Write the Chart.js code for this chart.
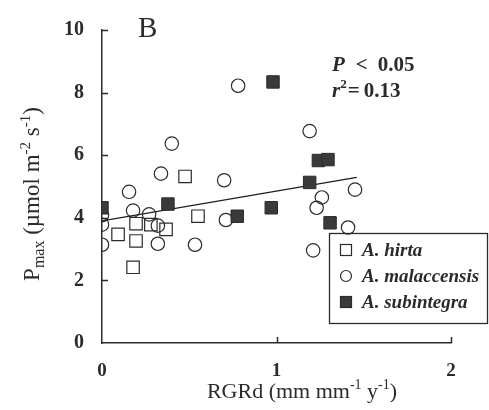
<!DOCTYPE html>
<html>
<head>
<meta charset="utf-8">
<script src="https://cdn.jsdelivr.net/npm/chart.js@4/dist/chart.umd.min.js"></script>
<style>
  html, body { margin: 0; padding: 0; background: #fff; }
  #wrap { width: 489px; height: 410px; position: relative; }
</style>
</head>
<body>
<div id="wrap"><canvas id="c" width="489" height="410"></canvas></div>
<script>
// ---- data ----
const hirtaX = [0.092, 0.178, 0.195, 0.195, 0.28, 0.367, 0.476, 0.55];
const hirtaY = [3.47, 2.42, 3.81, 3.26, 3.78, 3.63, 5.32, 4.05];

const malaccensisX = [0, 0, 0, 0.155, 0.178, 0.27, 0.32, 0.32, 0.338, 0.40, 0.533, 0.70, 0.71, 0.78, 1.19, 1.21, 1.23, 1.26, 1.41, 1.45];
const malaccensisY = [4.08, 3.78, 3.14, 4.83, 4.23, 4.11, 3.75, 3.17, 5.41, 6.37, 3.14, 5.2, 3.93, 8.22, 6.77, 2.96, 4.32, 4.65, 3.69, 4.9];

const subintegraX = [0, 0.378, 0.775, 0.97, 0.98, 1.19, 1.24, 1.295, 1.307];
const subintegraY = [4.32, 4.44, 4.05, 4.32, 8.34, 5.13, 5.83, 5.86, 3.84];

const fitX = [0, 1.46];
const fitY = [3.9, 5.29];

const xTicks = [0, 1, 2];
const yTicks = [0, 2, 4, 6, 8, 10];
const seriesNames = ['A. hirta', 'A. malaccensis', 'A. subintegra'];

const pts = (xs, ys) => xs.map((x, i) => ({ x: x, y: ys[i] }));

const INK = '#2b2b2b';
const SERIF = '"Liberation Serif", "Times New Roman", serif';

const decorPlugin = {
  id: 'decor',
  afterDraw(chart) {
    const ctx = chart.ctx;
    const xs = chart.scales.x, ys = chart.scales.y;
    const ca = chart.chartArea;
    ctx.save();
    // inward tick marks
    ctx.strokeStyle = INK;
    ctx.lineWidth = 1.5;
    yTicks.forEach(v => {
      if (v === 0) return;
      const py = Math.round(ys.getPixelForValue(v)) + 0.5;
      ctx.beginPath(); ctx.moveTo(ca.left, py); ctx.lineTo(ca.left + 6, py); ctx.stroke();
    });
    xTicks.forEach(v => {
      if (v === 0) return;
      const px = Math.round(xs.getPixelForValue(v)) + 0.5;
      ctx.beginPath(); ctx.moveTo(px, ca.bottom); ctx.lineTo(px, ca.bottom - 6); ctx.stroke();
    });

    ctx.fillStyle = INK;
    ctx.textBaseline = 'alphabetic';
    ctx.textAlign = 'left';

    // panel letter
    ctx.font = '29px ' + SERIF;
    ctx.fillText('B', 138, 37);

    // statistics
    const drawPieces = (pieces, x0, y0) => {
      let x = x0;
      pieces.forEach(p => {
        ctx.font = p.f;
        ctx.fillText(p.t, x, y0 + (p.dy || 0));
        x += ctx.measureText(p.t).width + (p.gap || 0);
      });
      return x;
    };
    drawPieces([
      { t: 'P', f: 'italic bold 21px ' + SERIF, gap: 11 },
      { t: '<', f: 'bold 21px ' + SERIF, gap: 10 },
      { t: '0.05', f: 'bold 21px ' + SERIF }
    ], 332, 71);
    drawPieces([
      { t: 'r', f: 'italic bold 21px ' + SERIF },
      { t: '2', f: 'bold 13px ' + SERIF, dy: -9, gap: 1 },
      { t: '=', f: 'bold 21px ' + SERIF, gap: 4 },
      { t: '0.13', f: 'bold 21px ' + SERIF }
    ], 332, 97);

    // x axis title
    const xPieces = [
      { t: 'RGRd (mm mm', f: '22px ' + SERIF },
      { t: '-1', f: '14px ' + SERIF, dy: -9 },
      { t: ' y', f: '22px ' + SERIF },
      { t: '-1', f: '14px ' + SERIF, dy: -9 },
      { t: ')', f: '22px ' + SERIF }
    ];
    let w = 0;
    xPieces.forEach(p => { ctx.font = p.f; w += ctx.measureText(p.t).width; });
    drawPieces(xPieces, 302 - w / 2, 398);

    // y axis title (rotated)
    const yPieces = [
      { t: 'P', f: '23px ' + SERIF },
      { t: 'max', f: '16px ' + SERIF, dy: 5 },
      { t: ' (\u00b5mol m', f: '23px ' + SERIF },
      { t: '-2', f: '15px ' + SERIF, dy: -9 },
      { t: ' s', f: '23px ' + SERIF },
      { t: '-1', f: '15px ' + SERIF, dy: -9 },
      { t: ')', f: '23px ' + SERIF }
    ];
    let wy = 0;
    yPieces.forEach(p => { ctx.font = p.f; wy += ctx.measureText(p.t).width; });
    ctx.save();
    ctx.translate(39, 194);
    ctx.rotate(-Math.PI / 2);
    drawPieces(yPieces, -wy / 2, 0);
    ctx.restore();

    // legend
    const lx = 329, ly = 233, lw = 158, lh = 90;
    ctx.lineWidth = 1.3;
    ctx.strokeStyle = INK;
    ctx.strokeRect(lx + 0.5, ly + 0.5, lw, lh);
    const rows = [250, 276, 302];
    const dsets = chart.data.datasets;
    rows.forEach((ry, i) => {
      const ds = dsets[i];
      const mx = 346;
      ctx.lineWidth = 1.2;
      ctx.strokeStyle = INK;
      ctx.fillStyle = ds.backgroundColor;
      if (ds.pointStyle === 'circle') {
        ctx.beginPath(); ctx.arc(mx, ry, 5.5, 0, Math.PI * 2);
        ctx.stroke();
      } else {
        const s = 5.5;
        if (ds.backgroundColor !== 'rgba(0,0,0,0)') { ctx.fillRect(mx - s, ry - s, 2 * s, 2 * s); }
        ctx.strokeRect(mx - s, ry - s, 2 * s, 2 * s);
      }
      ctx.fillStyle = INK;
      ctx.font = 'italic bold 19px ' + SERIF;
      ctx.textBaseline = 'middle';
      ctx.fillText(seriesNames[i], 362, ry + 1);
      ctx.textBaseline = 'alphabetic';
    });
    ctx.restore();
  }
};

new Chart(document.getElementById('c'), {
  type: 'scatter',
  data: {
    datasets: [
      {
        label: seriesNames[0], data: pts(hirtaX, hirtaY),
        pointStyle: 'rect', pointRadius: 8.8, pointHoverRadius: 8.8,
        backgroundColor: 'rgba(0,0,0,0)', borderColor: INK, borderWidth: 1.2, order: 2
      },
      {
        label: seriesNames[1], data: pts(malaccensisX, malaccensisY),
        pointStyle: 'circle', pointRadius: 6.7, pointHoverRadius: 6.7,
        backgroundColor: 'rgba(0,0,0,0)', borderColor: INK, borderWidth: 1.2, order: 3
      },
      {
        label: seriesNames[2], data: pts(subintegraX, subintegraY),
        pointStyle: 'rect', pointRadius: 8.8, pointHoverRadius: 8.8,
        backgroundColor: '#3a3a3a', borderColor: '#2b2b2b', borderWidth: 1, order: 1
      },
      {
        type: 'line', label: 'fit', data: pts(fitX, fitY),
        borderColor: '#1e1e1e', borderWidth: 1.3, pointRadius: 0, fill: false, order: 10
      }
    ]
  },
  options: {
    responsive: false,
    animation: false,
    devicePixelRatio: 1,
    layout: { padding: { top: 12, right: 38, left: 0, bottom: 0 } },
    plugins: { legend: { display: false }, tooltip: { enabled: false } },
    scales: {
      x: {
        type: 'linear', min: 0, max: 2,
        afterFit: s => { s.height = 67; },
        afterBuildTicks: s => { s.ticks = xTicks.map(v => ({ value: v })); },
        ticks: { color: INK, padding: 17, font: { family: SERIF, size: 19, weight: 'bold' } },
        grid: { display: false, drawTicks: false },
        border: { display: true, color: INK, width: 1.5 }
      },
      y: {
        type: 'linear', min: 0, max: 10,
        afterFit: s => { s.width = 102; },
        afterBuildTicks: s => { s.ticks = yTicks.map(v => ({ value: v })); },
        ticks: { color: INK, padding: 18, font: { family: SERIF, size: 20, weight: 'bold' } },
        grid: { display: false, drawTicks: false },
        border: { display: true, color: INK, width: 1.5 }
      }
    }
  },
  plugins: [decorPlugin]
});
</script>
</body>
</html>
